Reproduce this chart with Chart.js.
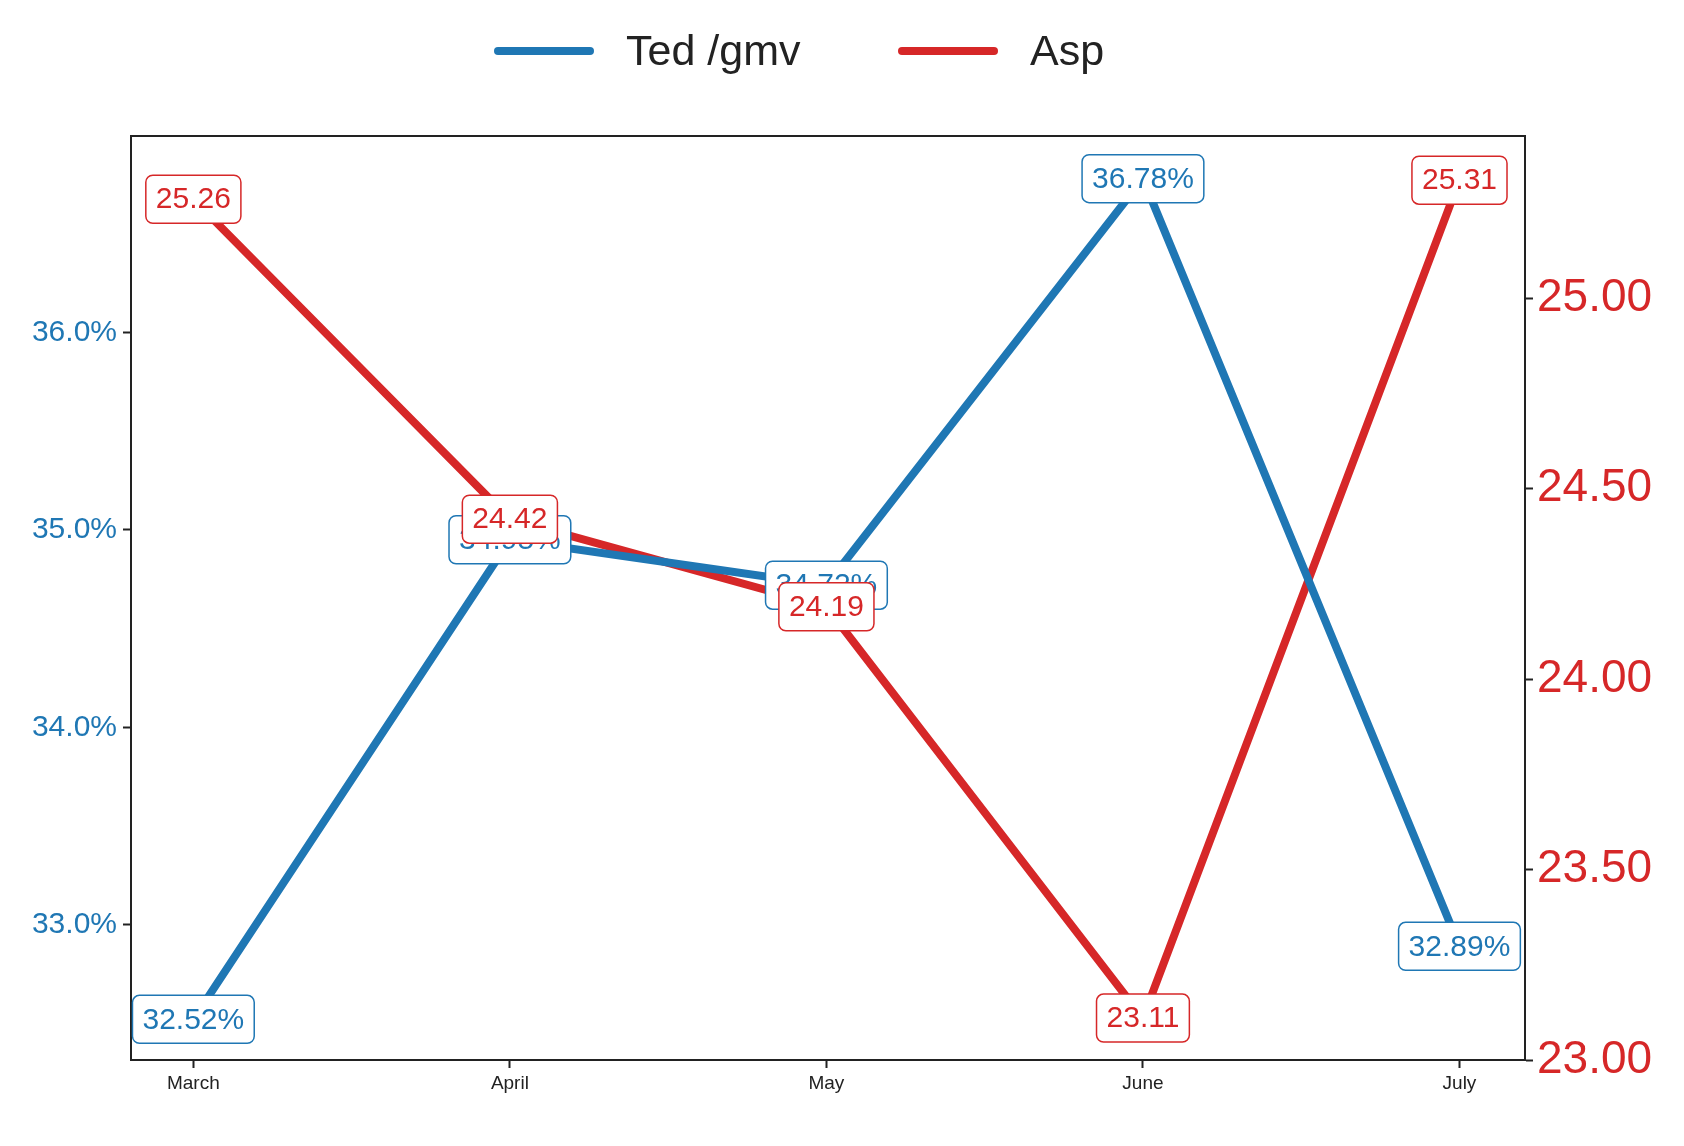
<!DOCTYPE html>
<html lang="en">
<head>
<meta charset="UTF-8">
<title>Ted /gmv vs Asp</title>
<script src="https://cdn.jsdelivr.net/npm/chart.js"></script>
<style>
  body { margin: 0; background: #fff; }
  #wrap { width: 1684px; height: 1146px; }
</style>
</head>
<body>
<div id="wrap"><canvas id="chart" width="1684" height="1146"></canvas></div>
<script>
const months = ['March', 'April', 'May', 'June', 'July'];
const tedGmv = [32.52, 34.95, 34.72, 36.78, 32.89];
const asp = [25.26, 24.42, 24.19, 23.11, 25.31];

const BLUE = '#1f77b4';
const RED = '#d62728';
const FONT = '"Liberation Sans", Arial, sans-serif';

// boxed value labels and top legend
const labelPlugin = {
  id: 'boxLabels',
  afterDatasetsDraw(chart) {
    const ctx = chart.ctx;
    ctx.save();
    ctx.font = '30px ' + FONT;
    ctx.textAlign = 'center';
    ctx.textBaseline = 'middle';
    chart.data.datasets.forEach((ds, di) => {
      const meta = chart.getDatasetMeta(di);
      meta.data.forEach((pt, i) => {
        const txt = di === 0 ? ds.data[i].y.toFixed(2) + '%' : ds.data[i].y.toFixed(2);
        const w = ctx.measureText(txt).width + 20;
        const h = 48;
        ctx.beginPath();
        ctx.roundRect(pt.x - w / 2, pt.y - h / 2, w, h, 7);
        ctx.fillStyle = '#fff';
        ctx.fill();
        ctx.lineWidth = 1.5;
        ctx.strokeStyle = ds.borderColor;
        ctx.stroke();
        ctx.fillStyle = ds.borderColor;
        ctx.fillText(txt, pt.x, pt.y + 1);
      });
    });
    // legend
    ctx.font = '43px ' + FONT;
    ctx.textAlign = 'left';
    ctx.lineWidth = 8;
    ctx.lineCap = 'round';
    const items = [['Ted /gmv', BLUE, 498], ['Asp', RED, 902]];
    items.forEach(([t, c, x]) => {
      ctx.strokeStyle = c;
      ctx.beginPath();
      ctx.moveTo(x, 51);
      ctx.lineTo(x + 92, 51);
      ctx.stroke();
      ctx.fillStyle = '#222';
      ctx.fillText(t, x + 128, 53);
    });
    ctx.restore();
  }
};

const tickGrid = { display: true, drawOnChartArea: false, drawTicks: true, tickLength: 8, tickColor: '#222', tickWidth: 2 };

new Chart(document.getElementById('chart'), {
  type: 'line',
  data: {
    datasets: [
      { label: 'Ted /gmv', data: tedGmv.map((v, i) => ({ x: i, y: v })), borderColor: BLUE, borderWidth: 8, pointRadius: 0, yAxisID: 'y' },
      { label: 'Asp', data: asp.map((v, i) => ({ x: i, y: v })), borderColor: RED, borderWidth: 8, pointRadius: 0, yAxisID: 'y2' }
    ]
  },
  options: {
    responsive: false,
    animation: false,
    layout: { padding: { top: 136 } },
    plugins: { legend: { display: false }, tooltip: { enabled: false } },
    scales: {
      x: {
        type: 'linear', min: -0.197, max: 4.207,
        afterBuildTicks: ax => { ax.ticks = months.map((_, i) => ({ value: i })); },
        afterFit: ax => { ax.height = 86; },
        ticks: { callback: v => months[v], color: '#222', font: { size: 19, family: FONT }, maxRotation: 0, padding: 4 },
        grid: tickGrid,
        border: { color: '#222', width: 2 }
      },
      y: {
        position: 'left', min: 32.314, max: 36.996,
        afterBuildTicks: ax => { ax.ticks = [33, 34, 35, 36].map(v => ({ value: v })); },
        afterFit: ax => { ax.width = 131; },
        ticks: { callback: v => v.toFixed(1) + '%', color: BLUE, font: { size: 30, family: FONT }, padding: 6 },
        grid: tickGrid,
        border: { color: '#222', width: 2 }
      },
      y2: {
        position: 'right', min: 23.0, max: 25.426,
        afterBuildTicks: ax => { ax.ticks = [23, 23.5, 24, 24.5, 25].map(v => ({ value: v })); },
        afterFit: ax => { ax.width = 159; },
        ticks: { callback: v => v.toFixed(2), color: RED, font: { size: 46, family: FONT }, padding: 4 },
        grid: tickGrid,
        border: { color: '#222', width: 2 }
      },
      top: {
        type: 'linear', position: 'top', display: true,
        afterFit: ax => { ax.height = 0; },
        ticks: { display: false }, grid: { display: false, drawTicks: false },
        border: { color: '#222', width: 2 }
      }
    }
  },
  plugins: [labelPlugin]
});
</script>
</body>
</html>
